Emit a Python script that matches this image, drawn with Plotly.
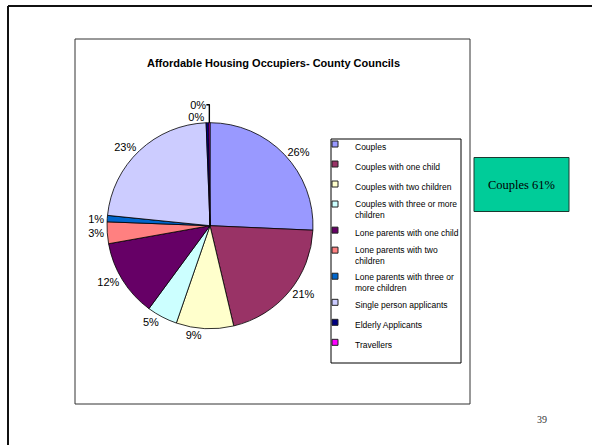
import plotly.graph_objects as go

categories = [
    "Couples",
    "Couples with one child",
    "Couples with two children",
    "Couples with three or more<br>children",
    "Lone parents with one child",
    "Lone parents with two<br>children",
    "Lone parents with three or<br>more children",
    "Single person applicants",
    "Elderly Applicants",
    "Travellers",
]
shares = [25.7, 20.6, 9.0, 4.8, 12.1, 3.4, 1.0, 22.8, 0.4, 0.2]
colors = ["#9999FF", "#993366", "#FFFFCC", "#CCFFFF", "#660066",
          "#FF8080", "#0066CC", "#CCCCFF", "#000080", "#FF00FF"]

title_text = "Affordable Housing Occupiers- County Councils"
callout_text = "Couples 61%"
page_number = "39"

W, H = 592, 445

fig = go.Figure()

cx, cy, r = 210, 225.7, 103
fig.add_trace(go.Pie(
    labels=categories,
    values=shares,
    sort=False,
    direction="clockwise",
    rotation=0,
    marker=dict(colors=colors, line=dict(color="black", width=0.8)),
    texttemplate="%{percent:.0%}",
    textposition="outside",
    textfont=dict(family="Liberation Sans, Arial", size=11, color="black"),
    outsidetextfont=dict(family="Liberation Sans, Arial", size=11, color="black"),
    showlegend=False,
    hoverinfo="label+percent",
    domain=dict(x=[(cx - r) / W, (cx + r) / W],
                y=[(H - cy - r) / H, (H - cy + r) / H]),
))

for name, col in zip(categories, colors):
    fig.add_trace(go.Scatter(
        x=[None], y=[None], mode="markers", name=name, legendgroup=name,
        marker=dict(symbol="square", size=6, color=col,
                    line=dict(color="#222222", width=1)),
        showlegend=True, hoverinfo="skip",
    ))

shapes = [
    # slide frame (top and left edges)
    dict(type="line", xref="paper", yref="paper", x0=8 / W, x1=1, y0=1 - 6 / H, y1=1 - 6 / H,
         line=dict(color="#111111", width=2)),
    dict(type="line", xref="paper", yref="paper", x0=8 / W, x1=8 / W, y0=0, y1=1 - 6 / H,
         line=dict(color="#111111", width=2)),
    # chart box
    dict(type="rect", xref="paper", yref="paper", x0=75 / W, x1=470 / W,
         y0=1 - 404 / H, y1=1 - 39 / H, line=dict(color="#333333", width=1)),
    # legend box
    dict(type="rect", xref="paper", yref="paper", x0=331 / W, x1=461 / W,
         y0=1 - 363 / H, y1=1 - 139 / H, fillcolor="white",
         line=dict(color="black", width=1), layer="below"),
    # callout box
    dict(type="rect", xref="paper", yref="paper", x0=474 / W, x1=569 / W,
         y0=1 - 211.5 / H, y1=1 - 157.5 / H, fillcolor="#00CC99",
         line=dict(color="#1a3a30", width=1)),
]

annotations = [
    dict(text="<b>" + title_text + "</b>", xref="paper", yref="paper",
         x=273 / W, y=1 - 62.5 / H, showarrow=False, xanchor="center", yanchor="middle",
         font=dict(family="Liberation Sans, Arial", size=11, color="black")),
    dict(text=callout_text, xref="paper", yref="paper",
         x=521.5 / W, y=1 - 184.5 / H, showarrow=False, xanchor="center", yanchor="middle",
         font=dict(family="Liberation Serif, Times New Roman", size=12.5, color="black")),
    dict(text=page_number, xref="paper", yref="paper",
         x=542 / W, y=1 - 419 / H, showarrow=False, xanchor="center", yanchor="middle",
         font=dict(family="Liberation Serif, Times New Roman", size=10, color="#333333")),
]

fig.update_layout(
    width=W, height=H,
    margin=dict(l=0, r=0, t=0, b=0),
    paper_bgcolor="white", plot_bgcolor="rgba(0,0,0,0)",
    xaxis=dict(visible=False), yaxis=dict(visible=False),
    shapes=shapes, annotations=annotations,
    legend=dict(x=315 / W, y=1 - 132 / H, xanchor="left", yanchor="top",
                bgcolor="rgba(0,0,0,0)", borderwidth=0,
                font=dict(family="Liberation Sans, Arial", size=8.5, color="black"),
                valign="top", itemwidth=30, tracegroupgap=1),
)

fig.write_html("out.html")
